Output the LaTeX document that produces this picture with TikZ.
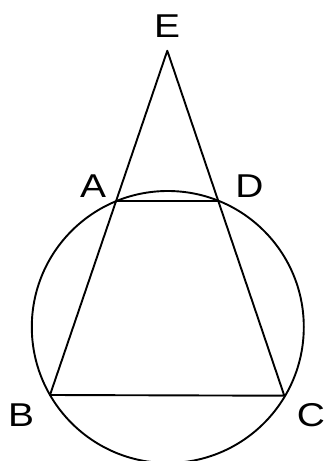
\documentclass[tikz,border=0pt]{standalone}
\usepackage{fontspec}
\setmainfont{Liberation Sans}
\begin{document}
\begin{tikzpicture}[x=1pt,y=-1pt,
  edge/.style={line width=1.9pt, line join=round},
  lbl/.style={inner sep=0pt, xscale=1.18, font=\fontsize{33}{38}\selectfont}]
\useasboundingbox (0,0) rectangle (325,461);
\coordinate (E) at (167.3,50.7);
\coordinate (A) at (116,201);
\coordinate (D) at (218.3,201);
\coordinate (B) at (50,395);
\coordinate (C) at (284.3,395.7);
\coordinate (O) at (167.8,327);
\draw[edge] (O) circle[radius=136pt];
\draw[edge] (B) -- (E) -- (C) -- cycle;
\draw[edge] (A) -- (D);
\node[lbl] (lE) at (167,26) {E};
\node[lbl] (lA) at (93,186) {A};
\node[lbl] (lD) at (249.5,186) {D};
\node[lbl] (lB) at (21,415) {B};
\node[lbl] (lC) at (311,415) {C};
\end{tikzpicture}
\end{document}
